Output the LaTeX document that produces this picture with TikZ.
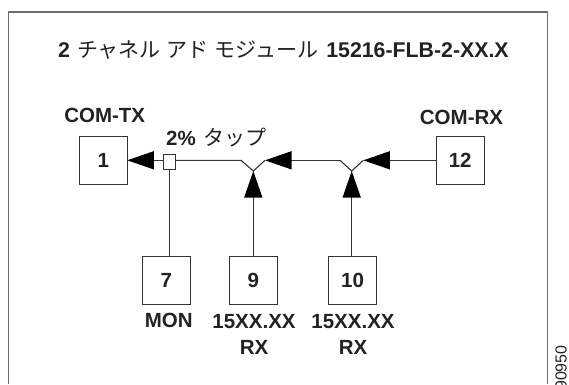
\documentclass[tikz,border=0pt]{standalone}
\usepackage{fontspec}
\setmainfont{Liberation Sans}
\newfontfamily\jp{Noto Sans CJK JP}
\usetikzlibrary{arrows.meta}
\definecolor{ink}{HTML}{222222}
\definecolor{wire}{HTML}{333333}
\definecolor{framec}{HTML}{6E6E6E}
\tikzset{
  x=1pt,y=-1pt,
  portbox/.style={draw=wire,line width=1.1pt,fill=white,minimum width=48pt,minimum height=48pt,inner sep=0pt,outer sep=0pt,text=ink,font=\fontsize{20.5}{24}\selectfont\bfseries},
  lab/.style={anchor=base,inner sep=0pt,text=ink,font=\fontsize{20.5}{24}\selectfont\bfseries},
  tapbox/.style={draw=wire,line width=1.1pt,fill=white,minimum width=12pt,minimum height=15pt,inner sep=0pt,outer sep=0pt},
  wireline/.style={draw=wire,line width=1.1pt},
  tip/.style={wireline,-{Triangle[length=26.5pt,width=18pt,color=black]}},
  frameline/.style={draw=framec,line width=1.5pt}
}
\begin{document}
\begin{tikzpicture}
\useasboundingbox (0,0) rectangle (569,384);
\clip (0,0) rectangle (569,384);
\coordinate (fa) at (8.5,384);
\coordinate (fb) at (8.5,12);
\coordinate (fc) at (547.5,12);
\coordinate (fd) at (547.5,384);
\draw[frameline] (fa) -- (fb) -- (fc) -- (fd);

\node[lab,anchor=base west,font=\fontsize{21.3}{24}\selectfont\bfseries] (title) at (58,57.5) {2\hspace{7pt}{\jp\mdseries\fontsize{21}{24}\selectfont チャネル\hspace{6pt}アド\hspace{6pt}モジュール}\hspace{8pt}15216-FLB-2-XX.X};

\node[portbox] (b1) at (103.3,160.7) {1};
\node[portbox] (b12) at (460.2,160.7) {12};
\node[portbox] (b7) at (166.2,280.7) {7};
\node[portbox] (b9) at (253.2,280.7) {9};
\node[portbox] (b10) at (352.5,280.7) {10};
\node[tapbox] (tap) at (169.3,162.3) {};

\node[lab] (comtx) at (104.7,122.3) {COM-TX};
\node[lab] (comrx) at (461.5,124) {COM-RX};
\node[lab,anchor=base west] (tapl) at (166,145.7) {2\%\hspace{8pt}{\jp\mdseries\fontsize{21}{24}\selectfont タップ}};
\node[lab] (mon) at (168.7,327.3) {MON};
\node[lab] (rxa) at (254,328.3) {15XX.XX};
\node[lab] (rxb) at (254,354) {RX};
\node[lab] (rxc) at (353,328.3) {15XX.XX};
\node[lab] (rxd) at (353,354) {RX};
\node[anchor=west,rotate=90,inner sep=0pt,text=ink,font=\fontsize{16}{18}\selectfont] (code) at (561,390) {90950};

\coordinate (tapw) at (163.3,160.3);
\coordinate (tape) at (175.3,160.3);
\coordinate (tips) at (169.3,169.8);
\coordinate (jal) at (241,160.3);
\coordinate (jab) at (253.3,171);
\coordinate (jar) at (265,160.3);
\coordinate (jbl) at (340,160.3);
\coordinate (jbb) at (351.7,171);
\coordinate (jbr) at (363.3,160.3);
\coordinate (b1e) at (127.3,160.3);
\coordinate (b12w) at (436.2,160.3);
\coordinate (b7n) at (169.3,256.7);
\coordinate (b9n) at (253.3,256.7);
\coordinate (b10n) at (351.7,256.7);

\draw[tip] (tapw) -- (b1e);
\draw[wireline] (tape) -- (jal) -- (jab) -- (jar);
\draw[tip] (jbl) -- (jar);
\draw[wireline] (jbl) -- (jbb) -- (jbr);
\draw[tip] (b12w) -- (jbr);
\draw[tip] (b9n) -- (jab);
\draw[tip] (b10n) -- (jbb);
\draw[wireline] (tips) -- (b7n);
\end{tikzpicture}
\end{document}
